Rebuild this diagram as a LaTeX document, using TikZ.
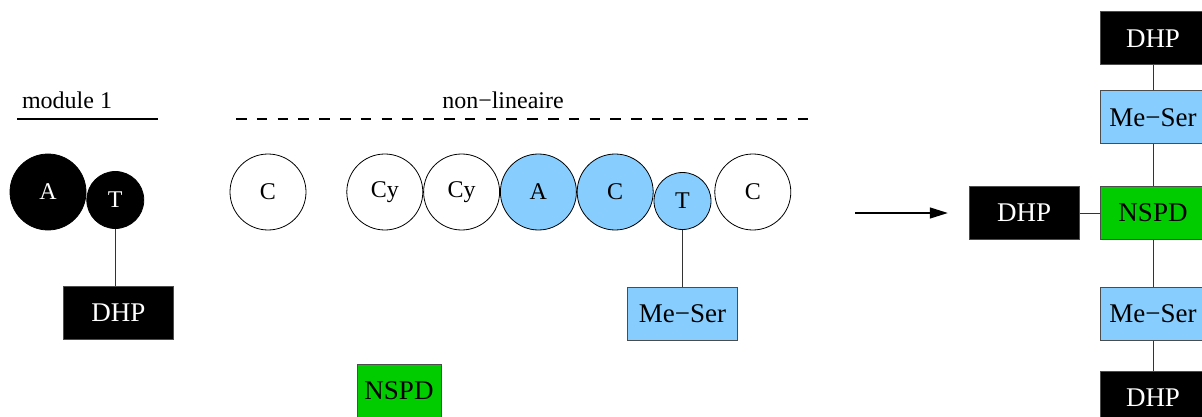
\documentclass[tikz,border=0pt]{standalone}
\usepackage{fontspec}
\setmainfont{Liberation Serif}
\newfontfamily\figfont{Liberation Serif}
\usepackage{xcolor}
\usepackage{tikz}
\usetikzlibrary{positioning, arrows.meta}
\definecolor{serblue}{RGB}{135,206,255}
\definecolor{nspdgreen}{RGB}{0,204,0}
\tikzset{
  res/.style     ={draw, circle, inner sep=0pt, minimum size=76pt, line width=0.8pt,
                   font=\figfont\fontsize{24}{28}\selectfont, fill=white},
  smallres/.style={res, minimum size=57pt},
  dark/.style    ={fill=black, text=white},
  sky/.style     ={fill=serblue},
  box/.style     ={draw=black!70, rectangle, inner sep=0pt, minimum height=53pt,
                   minimum width=110pt, line width=0.8pt, font=\figfont\fontsize{27}{30}\selectfont},
  dhp/.style     ={box, fill=black, text=white},
  mes/.style     ={box, fill=serblue},
  nspd/.style    ={box, fill=nspdgreen},
  link/.style    ={draw=black!80, line width=0.9pt},
  flow/.style    ={-{Triangle[length=18pt, width=11pt]}, line width=1.2pt},
  lbl/.style     ={font=\figfont\fontsize{24}{28}\selectfont, inner sep=0pt},
  rule/.style    ={line width=1.6pt},
}
\begin{document}
\begin{tikzpicture}[x=1pt, y=-1pt]
  \useasboundingbox (0,0) rectangle (1202,417);
  \node[lbl] (M1) at (67,100) {module 1};
  \node[lbl] (NL) at (503,100) {non−lineaire};
  \draw[rule] (17,119) -- (158,119);
  \draw[rule, dash pattern=on 10.5pt off 10.3pt] (236,119) -- (813,119);
  \node[res, dark] (A1) at (48,192) {A};
  \node[smallres, dark, right=0pt of A1, yshift=-8pt] (T1) {T};
  \node[dhp, below=57pt of T1, xshift=3pt] (D1) {DHP};
  \draw[link] (T1) -- (T1 |- D1.north);
  \node[res] (C1) at (268,192) {C};
  \node[res, right=40pt of C1] (Cy1) {Cy};
  \node[res, right=0pt of Cy1] (Cy2) {Cy};
  \node[res, sky, right=0pt of Cy2] (A2) {A};
  \node[res, sky, right=0pt of A2] (C2) {C};
  \node[smallres, sky, right=0pt of C2, yshift=-9pt] (T2) {T};
  \node[res, right=3pt of T2, yshift=9pt] (C3) {C};
  \node[mes, below=57pt of T2] (MS1) {Me−Ser};
  \draw[link] (T2) -- (MS1);
  \node[nspd, minimum width=84pt] (N1) at (399,390.5) {NSPD};
  \coordinate (go) at (855,213);
  \node[nspd, minimum width=106pt] (N2) at (1153,213) {NSPD};
  \node[dhp, left=20pt of N2] (D2) {DHP};
  \node[mes, minimum width=106pt, above=42pt of N2] (MS2) {Me−Ser};
  \node[dhp, minimum width=106pt, above=25pt of MS2] (D3) {DHP};
  \node[mes, minimum width=106pt, below=47pt of N2] (MS3) {Me−Ser};
  \node[dhp, minimum width=106pt, below=30pt of MS3] (D4) {DHP};
  \draw[link] (D3) -- (MS2);
  \draw[link] (MS2) -- (N2);
  \draw[link] (N2) -- (MS3);
  \draw[link] (MS3) -- (D4);
  \draw[link] (D2) -- (N2);
  \draw[flow, shorten >=21pt] (go) -- (D2.west);
\end{tikzpicture}
\end{document}
